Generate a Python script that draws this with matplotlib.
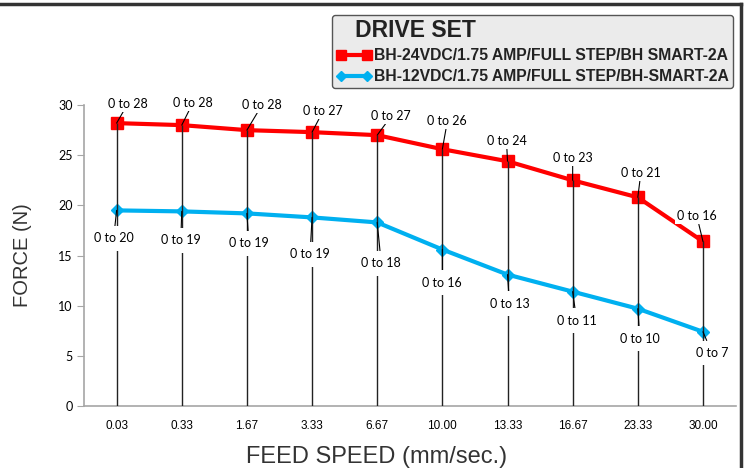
import matplotlib
matplotlib.use("Agg")
import matplotlib.pyplot as plt
from matplotlib.lines import Line2D

# data
speeds = ["0.03", "0.33", "1.67", "3.33", "6.67", "10.00", "13.33", "16.67", "23.33", "30.00"]
force_24v = [28.2, 28.0, 27.5, 27.3, 27.0, 25.6, 24.4, 22.5, 20.8, 16.4]
force_12v = [19.5, 19.4, 19.2, 18.8, 18.3, 15.6, 13.1, 11.4, 9.7, 7.4]
labels_24v = ["0 to 28", "0 to 28", "0 to 28", "0 to 27", "0 to 27",
              "0 to 26", "0 to 24", "0 to 23", "0 to 21", "0 to 16"]
labels_12v = ["0 to 20", "0 to 19", "0 to 19", "0 to 19", "0 to 18",
              "0 to 16", "0 to 13", "0 to 11", "0 to 10", "0 to 7"]
name_24v = "BH-24VDC/1.75 AMP/FULL STEP/BH SMART-2A"
name_12v = "BH-12VDC/1.75 AMP/FULL STEP/BH-SMART-2A"

# label offsets (pixels) from their point
off_24v = [(11, 19), (11, 22), (15, 25), (11, 21), (14, 19),
           (5, 28), (-1, 20), (0, 22), (3, 24), (-6, 25)]
off_12v = [(-3, -28), (-1, -29), (2, -30), (-2, -37), (4, -41),
           (0, -33), (2, -29), (4, -29), (2, -30), (9, -21)]

red = "#ff0000"
blue = "#00b0f0"
lblfont = ["Lato", "DejaVu Sans"]
narrow = ["Liberation Sans Narrow", "Liberation Sans", "DejaVu Sans"]

fig = plt.figure(figsize=(7.45, 4.68), dpi=100)
ax = fig.add_axes([0.1128, 0.1325, 0.8745, 0.643])

x = list(range(len(speeds)))

ax.vlines(x, 0, force_24v, color="#222222", lw=1, zorder=3)
l1, = ax.plot(x, force_24v, color=red, lw=3, marker="s", markersize=9, zorder=2, label=name_24v)
l2, = ax.plot(x, force_12v, color=blue, lw=3, marker="D", markersize=6.5, zorder=2, label=name_12v)

for i in x:
    ax.annotate(labels_24v[i], (i, force_24v[i]), xytext=off_24v[i], textcoords="offset pixels",
                ha="center", va="center", fontsize=9, family=lblfont, zorder=5,
                bbox=dict(boxstyle="square,pad=0.15", fc="white", ec="none"),
                arrowprops=dict(arrowstyle="-", color="k", lw=0.8, shrinkA=0, shrinkB=0))
    ax.annotate(labels_12v[i], (i, force_12v[i]), xytext=off_12v[i], textcoords="offset pixels",
                ha="center", va="center", fontsize=9, family=lblfont, zorder=5,
                bbox=dict(boxstyle="square,pad=0.5", fc="white", ec="none"),
                arrowprops=dict(arrowstyle="-", color="k", lw=0.8, shrinkA=0, shrinkB=0))

ax.set_xlim(-0.5, len(speeds) - 0.5)
ax.set_ylim(0, 30)
ax.set_yticks(range(0, 31, 5))
ax.set_xticks(x)
ax.set_xticklabels(speeds, fontsize=8.5, family=narrow)
for t in ax.get_yticklabels():
    t.set_fontsize(9)
    t.set_family(lblfont)
ax.tick_params(axis="x", length=0, pad=10)
ax.tick_params(axis="y", length=5, color="#a6a6a6", pad=3)
for s in ["top", "right"]:
    ax.spines[s].set_visible(False)
for s in ["left", "bottom"]:
    ax.spines[s].set_color("#a6a6a6")
    ax.spines[s].set_linewidth(1.2)

fig.text(0.03, 0.455, "FORCE (N)", rotation=90, ha="center", va="center",
         fontsize=14.5, family=["Liberation Sans", "DejaVu Sans"], color="#333333")
fig.text(0.505, 0.023, "FEED SPEED (mm/sec.)", ha="center", va="center",
         fontsize=17, family=narrow, color="#333333")

leg = fig.legend(handles=[l1, l2], loc="upper right", bbox_to_anchor=(0.984, 0.968),
                 title="   DRIVE SET", alignment="left", numpoints=2, fancybox=True,
                 facecolor="#ebebeb", edgecolor="#555555", framealpha=1, markerscale=0.8,
                 handlelength=2.3, handletextpad=0.15, borderpad=0.25, labelspacing=0.4,
                 borderaxespad=0,
                 prop=dict(family=["Liberation Sans", "DejaVu Sans"], weight="bold", size=11.3),
                 title_fontproperties=dict(family=["Liberation Sans", "DejaVu Sans"], weight="bold", size=16.5))
leg.get_title().set_color("#222222")
for t in leg.get_texts():
    t.set_color("#222222")

# outer frame (top and right)
fig.add_artist(Line2D([0, 0.995], [0.991, 0.991], transform=fig.transFigure, color="#333333", lw=2.5))
fig.add_artist(Line2D([0.995, 0.995], [0.0, 0.991], transform=fig.transFigure, color="#333333", lw=2.5))

fig.savefig("out.png", dpi=100)
